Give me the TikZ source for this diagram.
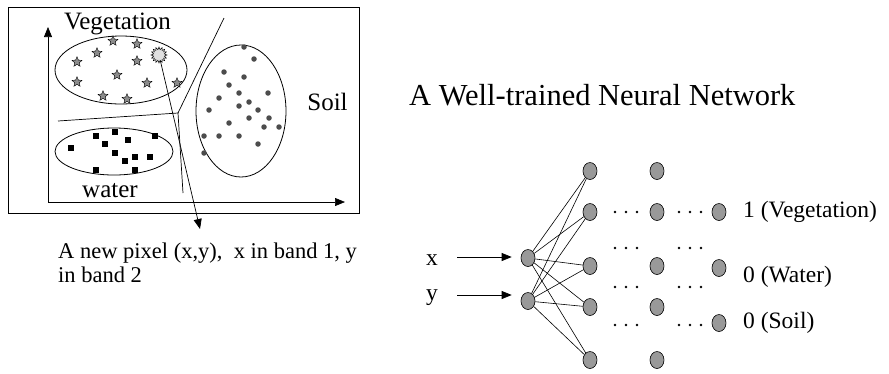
\documentclass[tikz,border=0pt]{standalone}
\usepackage{fontspec}
\setmainfont{Liberation Serif}
\usetikzlibrary{shapes.geometric,arrows.meta}
\definecolor{neurongray}{gray}{0.6}
\definecolor{stargray}{gray}{0.55}
\definecolor{soilgray}{gray}{0.3}
\definecolor{burstgray}{gray}{0.88}
\begin{document}
\begin{tikzpicture}[x=1pt,y=-1pt,
  arr/.style={-{Triangle[length=10pt,width=8pt]}, line width=0.7pt},
  cluster/.style={ellipse, draw, line width=0.8pt, inner sep=0pt},
  biglbl/.style={inner sep=0pt, font=\fontsize{25}{30}\selectfont},
  netlbl/.style={inner sep=0pt, font=\fontsize{23.5}{28}\selectfont},
  vegstar/.style={star, star points=5, star point ratio=2.2, minimum size=10.5pt,
    inner sep=0pt, draw, line width=0.4pt, fill=stargray},
  burst/.style={star, star points=16, star point ratio=1.45, minimum size=16pt,
    inner sep=0pt, draw, line width=0.5pt, fill=burstgray},
  watermark/.style={rectangle, minimum size=5.5pt, inner sep=0pt, fill=black},
  soildot/.style={circle, minimum size=5.5pt, inner sep=0pt, fill=soilgray},
  neuron/.style={ellipse, draw, line width=0.6pt, fill=neurongray,
    minimum width=14pt, minimum height=17pt, inner sep=0pt},
  edge/.style={line width=0.6pt}]
\useasboundingbox (0,0) rectangle (889,373);

% ---------- feature space ----------
\draw[line width=0.8pt] (8,7) rectangle (359,213);
\coordinate (origin) at (48,202);
\coordinate (ytip) at (48,27);
\coordinate (xtip) at (345,202);
\draw[arr] (origin) -- (ytip);
\draw[arr] (origin) -- (xtip);

\node[cluster, minimum width=132pt, minimum height=68pt] (vegE) at (121,70) {};
\node[cluster, minimum width=118pt, minimum height=47pt] (watE) at (114,151.5) {};
\node[cluster, minimum width=90pt, minimum height=132pt] (soilE) at (241,111) {};

\node[biglbl, anchor=base] (vegL) at (117.5,29) {Vegetation};
\node[biglbl, anchor=base] (watL) at (110,197) {water};
\node[biglbl, anchor=base] (soilL) at (327.5,110) {Soil};

% decision boundaries
\coordinate (J) at (178,113);
\coordinate (bl) at (58,121);
\coordinate (bu) at (224,18);
\coordinate (bd) at (183,193);
\draw[line width=0.7pt] (bl) -- (J) -- (bu);
\draw[line width=0.7pt] (J) -- (bd);

% samples
\foreach \x/\y [count=\i] in {113/41,137/44,97/53,77/62,137/61,117/75,77/82,147/83,177/83,103/96,127/99}
  \node[vegstar] (veg\i) at (\x,\y) {};
\foreach \x/\y [count=\i] in {96/136,115/132,155/136,71/148,105/144,128/140,115/153,135/157,150/157,125/161,96/170,135/170}
  \node[watermark] (wat\i) at (\x,\y) {};
\foreach \x/\y [count=\i] in {244/47,254/59,224/72,244/77,229/85,239/93,268/93,219/98,249/102,239/106,209/110,258/110,249/118,269/118,229/123,264/127,279/127,204/136,219/136,239/136,258/144,204/153}
  \node[soildot] (soil\i) at (\x,\y) {};

% new pixel
\node[burst] (px) at (159,55) {};
\coordinate (pxend) at (200,229);
\draw[arr] (px) -- (pxend);
\node[anchor=north west, align=left, inner sep=0pt,
  font=\fontsize{22.5}{23.5}\selectfont] (cap) at (58,243)
  {A new pixel (x,y),\ \ x in band 1, y\\in band 2};

% ---------- neural network ----------
\node[inner sep=0pt, anchor=base west, font=\fontsize{30.5}{36}\selectfont] (title) at (409,105)
  {A Well-trained Neural Network};

\node[neuron] (i1) at (528,258) {};
\node[neuron] (i2) at (528,301) {};
\foreach \y [count=\j] in {171,212,266,307,360} {
  \node[neuron] (ha\j) at (590,\y) {};
  \node[neuron] (hb\j) at (657,\y) {};
}
\node[neuron] (o1) at (719,212) {};
\node[neuron] (o2) at (719,268) {};
\node[neuron] (o3) at (719,323) {};

\foreach \i in {1,2}
  \foreach \j in {1,...,5}
    \draw[edge] (i\i) -- (ha\j);

% elided connections
\foreach \y in {212,248,287,325}
  \foreach \x in {615,626,637,679,690,701}
    \fill (\x,\y) circle[radius=1.4pt];

% inputs
\node[netlbl] (xl) at (432,260) {x};
\node[netlbl] (yl) at (432,298) {y};
\coordinate (xs) at (457,257);
\coordinate (ys) at (457,295);
\draw[arr, shorten >=9pt] (xs) -- (xs -| i1.west);
\draw[arr, shorten >=9pt] (ys) -- (ys -| i2.west);

% outputs
\node[netlbl, anchor=west] (out1) at (743,212) {1 (Vegetation)};
\node[netlbl, anchor=west] (out2) at (743,277) {0 (Water)};
\node[netlbl, anchor=west] (out3) at (743,323) {0 (Soil)};
\end{tikzpicture}
\end{document}
